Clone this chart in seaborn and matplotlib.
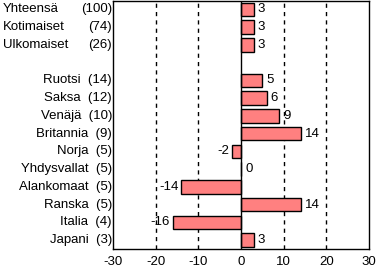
import matplotlib
matplotlib.use("Agg")
import matplotlib.pyplot as plt
import matplotlib.transforms as mtransforms
import seaborn as sns
import pandas as pd
import numpy as np

names = ["Yhteensä", "Kotimaiset", "Ulkomaiset", "", "Ruotsi", "Saksa", "Venäjä",
         "Britannia", "Norja", "Yhdysvallat", "Alankomaat", "Ranska", "Italia", "Japani"]
counts = [100, 74, 26, None, 14, 12, 10, 9, 5, 5, 5, 5, 4, 3]
values = [3, 3, 3, None, 5, 6, 9, 14, -2, 0, -14, 14, -16, 3]
xticks = [-30, -20, -10, 0, 10, 20, 30]

FS = 9.5

sns.set_theme(style="white")
plt.rcParams['font.family'] = ['Liberation Sans', 'DejaVu Sans']

keys = [f"r{i}" for i in range(len(names))]
df = pd.DataFrame({"key": [k for k, v in zip(keys, values) if v is not None],
                   "value": [v for v in values if v is not None]})

fig = plt.figure(figsize=(3.77, 2.71), dpi=100)
ax = fig.add_axes([113/377, 22/271, 256/377, 248.5/271])

for g in [-20, -10, 10, 20]:
    ax.axvline(g, color="black", linestyle=(0, (3, 3)), linewidth=1, zorder=0)
ax.axvline(0, color="black", linewidth=1, zorder=3)

sns.barplot(data=df, x="value", y="key", order=keys, orient="h",
            color="#FF8080", saturation=1, edgecolor="black", linewidth=1,
            width=0.75, ax=ax, zorder=2)

ax.set_xlim(-30, 30)
ax.set_ylim(len(names) - 0.5, -0.5)
ax.set_xticks(xticks)
ax.set_xticklabels([str(t) for t in xticks], fontsize=FS, color="black")
ax.set_yticks([])
ax.set_xlabel("")
ax.set_ylabel("")
ax.tick_params(axis="x", length=0, pad=5)
for s in ax.spines.values():
    s.set_color("black")
    s.set_linewidth(1)

trans = mtransforms.blended_transform_factory(ax.transAxes, ax.transData)
for i, (n, c) in enumerate(zip(names, counts)):
    if c is None:
        continue
    if i < 3:
        ax.text(-110/256, i, n, transform=trans, ha="left", va="center", fontsize=FS, color="black")
        ax.text(-1/256, i, f"({c})", transform=trans, ha="right", va="center", fontsize=FS, color="black")
    else:
        ax.text(-1/256, i, f"{n}  ({c})", transform=trans, ha="right", va="center", fontsize=FS, color="black")

for i, v in enumerate(values):
    if v is None:
        continue
    if v >= 0:
        ax.annotate(str(v), (v, i), xytext=(4, 0), textcoords="offset pixels",
                    ha="left", va="center", fontsize=FS, color="black", zorder=5)
    else:
        ax.annotate(str(v), (v, i), xytext=(-3, 0), textcoords="offset pixels",
                    ha="right", va="center", fontsize=FS, color="black", zorder=5)

fig.savefig("out.png", dpi=100)
